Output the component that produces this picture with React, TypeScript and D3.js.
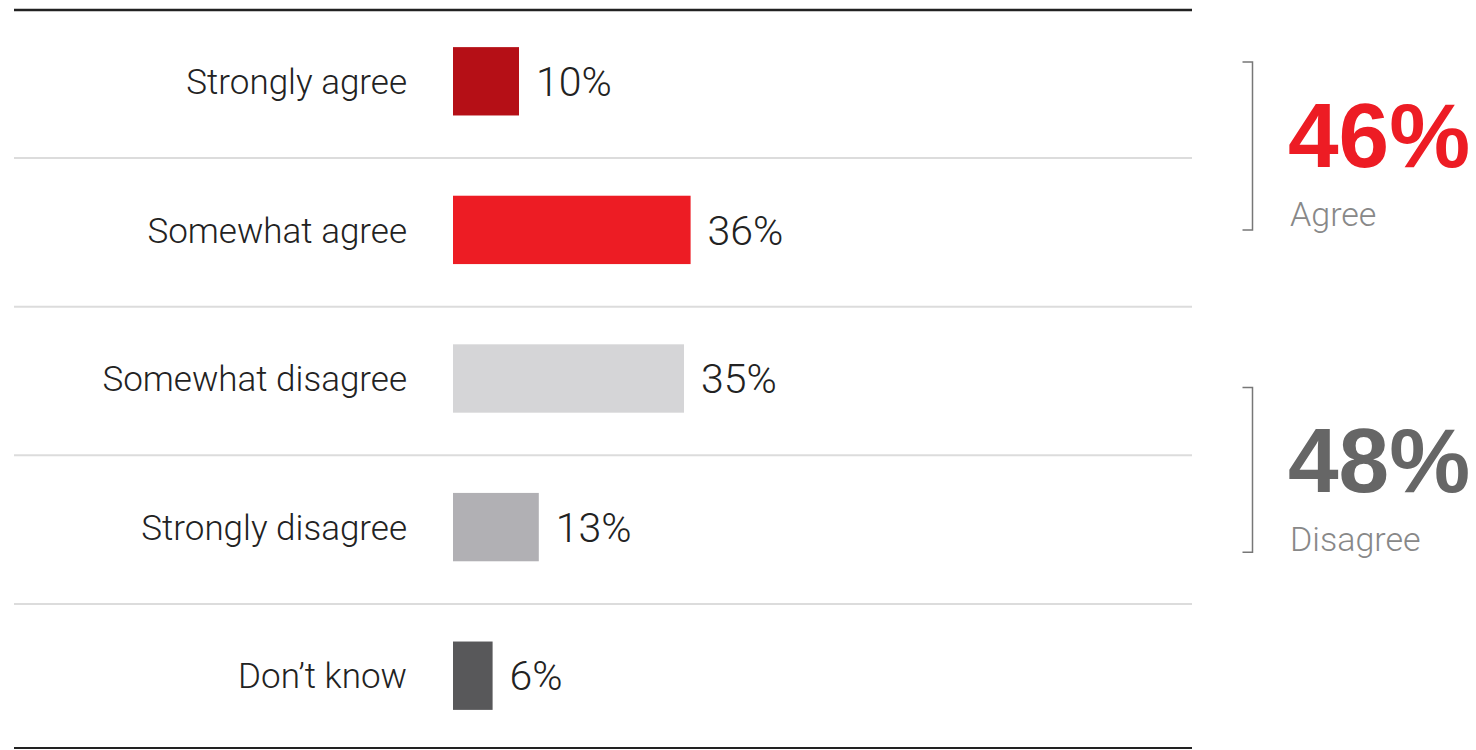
import React from 'react';
import * as d3 from 'd3';

// data
const categories = ['Strongly agree', 'Somewhat agree', 'Somewhat disagree', 'Strongly disagree', 'Don\u2019t know'];
const values = [10, 36, 35, 13, 6];
const barColors = ['#B50F16', '#ED1C24', '#D5D5D7', '#B1B0B4', '#58585A'];

const summaryLabels = ['Agree', 'Disagree'];
const summaryValues = [46, 48];
const summaryColors = ['#ED1C24', '#666666'];
// bracket extents in row units (0 = top of first row)
const summarySpans = [[0.37, 1.5], [2.56, 3.67]];

const W = 1476;
const H = 750;
const lineLeft = 14;
const lineRight = 1192;
const font = 'Roboto, "Noto Sans", sans-serif';

export default function App() {
  const x = d3.scaleLinear().domain([0, 100]).range([453, 453 + 660]);
  const y = d3.scaleBand<string>().domain(categories).range([7, H]).paddingInner(0.54).paddingOuter(0.27);
  const rows = d3.scaleLinear().domain([0, categories.length]).range([7, H]);
  const bw = y.bandwidth();

  const separators = categories.slice(1).map((c, i) => {
    const prev = y(categories[i])! + bw / 2;
    const cur = y(c)! + bw / 2;
    return (prev + cur) / 2 + 2.5;
  });

  return (
    <svg width={W} height={H} style={{ position: 'absolute', left: 0, top: 0, background: '#fff' }}>
      {/* rules */}
      <line x1={lineLeft} x2={lineRight} y1={10} y2={10} stroke="#222" strokeWidth={2.5} />
      {separators.map((s, i) => (
        <line key={i} x1={lineLeft} x2={lineRight} y1={s} y2={s} stroke="#DCDCDC" strokeWidth={2} />
      ))}
      <line x1={lineLeft} x2={lineRight} y1={748} y2={748} stroke="#222" strokeWidth={2} />

      {/* bars */}
      {categories.map((c, i) => {
        const yy = y(c)!;
        const cy = yy + bw / 2;
        return (
          <g key={c}>
            <text x={407} y={cy} dy="0.36em" textAnchor="end" fontFamily={font} fontWeight={300} fontSize={35} fill="#222">
              {c}
            </text>
            <rect x={x(0)} y={yy} width={x(values[i]) - x(0)} height={bw} fill={barColors[i]} />
            <text x={x(values[i]) + 17} y={cy} dy="0.36em" fontFamily={font} fontWeight={300} fontSize={41} fill="#222">
              {values[i]}%
            </text>
          </g>
        );
      })}

      {/* summary brackets */}
      {summaryLabels.map((lab, i) => {
        const top = rows(summarySpans[i][0]);
        const bot = rows(summarySpans[i][1]);
        const bx = 1252.5;
        return (
          <g key={lab}>
            <path
              d={`M${bx - 10},${top}H${bx}V${bot}H${bx - 10}`}
              fill="none"
              stroke="#777"
              strokeWidth={1.5}
            />
            <text x={1288} y={top + 105} fontFamily='"Liberation Sans", Arial, sans-serif' fontWeight="bold" fontSize={91} fill={summaryColors[i]}>
              {summaryValues[i]}%
            </text>
            <text x={1290} y={top + 164} fontFamily={font} fontWeight={300} fontSize={34} fill="#888">
              {lab}
            </text>
          </g>
        );
      })}
    </svg>
  );
}
